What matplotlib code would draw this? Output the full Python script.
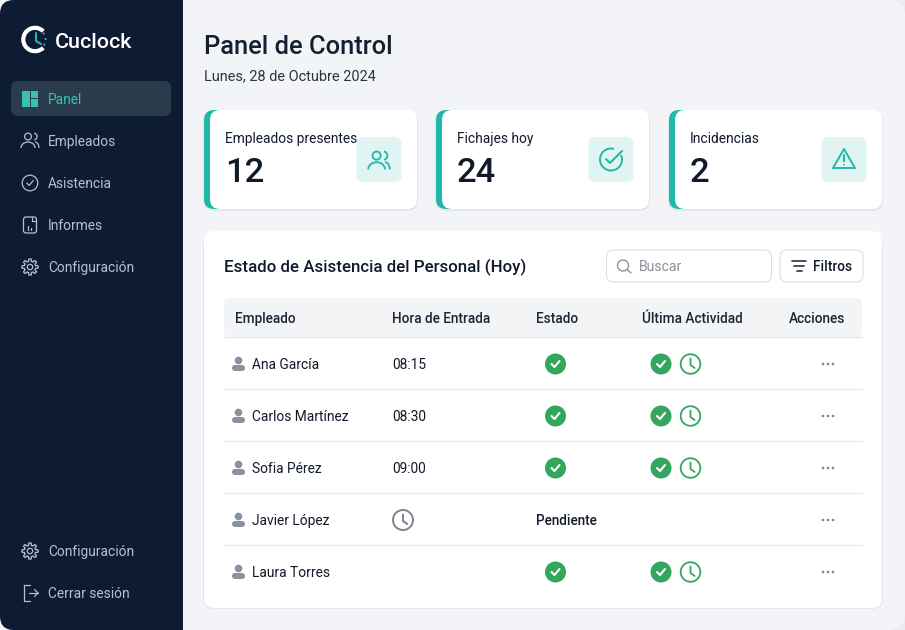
import numpy as np
import matplotlib
matplotlib.use("Agg")
import matplotlib.pyplot as plt
from matplotlib.patches import FancyBboxPatch, Circle, Arc, Rectangle, Polygon, Wedge

plt.rcParams['font.family'] = ['Roboto', 'DejaVu Sans']

nav_top = ["Panel", "Empleados", "Asistencia", "Informes", "Configuración"]
nav_bottom = ["Configuración", "Cerrar sesión"]
card_titles = ["Empleados presentes", "Fichajes hoy", "Incidencias"]
card_values = ["12", "24", "2"]
table_headers = ["Empleado", "Hora de Entrada", "Estado", "Última Actividad", "Acciones"]
employees = ["Ana García", "Carlos Martínez", "Sofia Pérez", "Javier López", "Laura Torres"]
entry_times = ["08:15", "08:30", "09:00", "clock", ""]
states = ["ok", "ok", "ok", "Pendiente", "ok"]
activity = [True, True, True, False, True]

NAVY = "#0d1b33"
TEAL = "#22b8a9"
TEAL_BG = "#e0f5f3"
INK = "#111a2b"
NAV_TXT = "#b9c0cc"
GREEN = "#34a65f"
GREY = "#8a91a0"

fig = plt.figure(figsize=(9.05, 6.3), dpi=100, facecolor="#e9ebee")
ax = fig.add_axes([0, 0, 1, 1])
ax.set_xlim(0, 905)
ax.set_ylim(630, 0)
ax.axis("off")


def px(size):
    return size * 0.72


def rbox(x, y, w, h, r, fc, ec="none", lw=0, z=1, alpha=None):
    p = FancyBboxPatch((x, y), w, h, boxstyle=f"round,pad=0,rounding_size={r}",
                       fc=fc, ec=ec, lw=lw, zorder=z, alpha=alpha)
    ax.add_patch(p)
    return p


def label(x, y, s, size, color=INK, weight="normal", ha="left", z=6):
    ax.text(x, y + 1, s, fontsize=px(size), color=color, fontweight=weight, ha=ha, va="center", zorder=z)


def stroke(xs, ys, color, lw=1.4, z=6):
    ax.plot(xs, ys, color=color, lw=lw, solid_capstyle="round", solid_joinstyle="round", zorder=z)


def ring(x, y, r, color, lw=1.4, z=6):
    ax.add_patch(Circle((x, y), r, fc="none", ec=color, lw=lw, zorder=z))


def people_icon(x, y, color, s=1.0, lw=1.2):
    ring(x - 2 * s, y - 4.5 * s, 3.4 * s, color, lw)
    ax.add_patch(Arc((x - 2 * s, y + 7 * s), 14 * s, 12 * s, theta1=180, theta2=360, ec=color, lw=lw, zorder=6))
    ax.add_patch(Arc((x + 3.5 * s, y - 4.5 * s), 7 * s, 7 * s, theta1=-80, theta2=80, ec=color, lw=lw, zorder=6))
    ax.add_patch(Arc((x + 5 * s, y + 7 * s), 8 * s, 12 * s, theta1=270, theta2=360, ec=color, lw=lw, zorder=6))


def gear_icon(x, y, color, r=7.5):
    t = np.linspace(0, 2 * np.pi, 160)
    rad = r * (0.92 + 0.16 * np.clip(3 * np.cos(8 * t), -1, 1))
    ax.add_patch(Polygon(np.c_[x + rad * np.cos(t), y + rad * np.sin(t)], closed=True, fc="none", ec=color, lw=0.9, zorder=6))
    ring(x, y, r * 0.36, color, 0.9)


def check_mark(x, y, s, color, lw=1.5):
    stroke([x - 4 * s, x - 1 * s, x + 4 * s], [y, y + 3 * s, y - 3 * s], color, lw, 7)


def green_check(x, y):
    ax.add_patch(Circle((x, y), 10.5, fc=GREEN, ec="none", zorder=6))
    check_mark(x, y, 1.0, "white", 1.5)


def clock_icon(x, y, r, color, lw=1.5):
    ring(x, y, r, color, lw)
    stroke([x, x, x + r * 0.42], [y - r * 0.55, y + r * 0.1, y + r * 0.4], color, lw)


def person_icon(x, y):
    ax.add_patch(Circle((x, y - 3.5), 3.8, fc=GREY, ec="none", zorder=6))
    ax.add_patch(FancyBboxPatch((x - 6.5, y + 1), 13, 6, boxstyle="round,pad=0,rounding_size=3",
                                fc=GREY, ec="none", zorder=6))


# page and sidebar
rbox(-20, 0, 925, 630, 16, "#f2f4f7", z=0)
rbox(0, 0, 183, 630, 14, NAVY, z=1)
ax.add_patch(Rectangle((60, 0), 123, 630, fc=NAVY, ec="none", zorder=1))

# logo
ax.add_patch(Wedge((35, 39.5), 13.8, 45, 315, width=4.2, fc="white", ec="none", zorder=6))
stroke([36, 36, 41], [33, 41, 44], TEAL, 1.5)
ax.add_patch(Arc((35, 39.5), 21, 21, theta1=-40, theta2=40, ec=TEAL, lw=1.4, ls=(0, (1, 2)), zorder=6))
label(55, 41.5, "Cuclock", 21.5, "white", "medium")

# nav
rbox(11, 81, 160, 35, 7, "#2a3c4b", z=2)
nav_y = [99, 141, 183, 225, 267]
for i, (name, yy) in enumerate(zip(nav_top, nav_y)):
    label(48, yy, name, 13.8, "#35c2b3" if i == 0 else NAV_TXT)
# panel icon
for bx, by, bw, bh in [(22, 91, 7.5, 16), (31, 91, 7, 6.5), (31, 99, 7, 8)]:
    ax.add_patch(Rectangle((bx, by), bw, bh, fc="#35c2b3", ec="none", zorder=6))
people_icon(30, 141, NAV_TXT, 1.0, 0.9)
ring(30, 183, 7.8, NAV_TXT, 0.9)
check_mark(30, 183, 0.8, NAV_TXT, 0.9)
# report icon
rbox(23.5, 217, 13, 16, 2.5, "none", NAV_TXT, 0.9, z=6)
stroke([28, 28], [226, 230], NAV_TXT, 0.9)
stroke([31, 31], [228, 230], NAV_TXT, 0.9)
stroke([32, 32, 36], [217, 221, 221], NAV_TXT, 0.8)
gear_icon(30, 267, NAV_TXT)
gear_icon(30, 551, NAV_TXT)
label(48, 551, nav_bottom[0], 13.8, NAV_TXT)
label(48, 593, nav_bottom[1], 13.8, NAV_TXT)
stroke([30, 24, 24, 30], [585, 585, 601, 601], NAV_TXT, 0.9)
stroke([29, 38], [593, 593], NAV_TXT, 0.9)
stroke([34.5, 38, 34.5], [589.5, 593, 596.5], NAV_TXT, 0.9)

# title
label(204, 46, "Panel de Control", 25.5, "#14202f", "medium")
label(204, 75, "Lunes, 28 de Octubre 2024", 14.5, "#2a3442")

# cards
card_x = [204, 436, 669]
icon_x = [379, 611, 844]
for x, ix, title, val in zip(card_x, icon_x, card_titles, card_values):
    w = 213
    rbox(x - 1, 111, w + 2, 100, 11, "#d9dde3", z=1, alpha=0.6)
    rbox(x, 110, 40, 99, 10, TEAL, z=2)
    rbox(x + 6, 110, w - 6, 99, 10, "white", z=3)
    label(x + 21, 138, title, 13.7)
    label(x + 21, 172, val, 34.5, INK, "medium")
    rbox(ix - 22.5, 137, 45, 45, 7, TEAL_BG, z=4)
people_icon(icon_x[0], 161, TEAL, 1.2, 1.3)
ring(icon_x[1], 159.5, 11, TEAL, 1.4)
ax.add_patch(Rectangle((icon_x[1] + 3, 148), 11, 7, fc=TEAL_BG, ec="none", zorder=6))
stroke([icon_x[1] - 5, icon_x[1] - 1, icon_x[1] + 11], [159, 163, 151], TEAL, 1.5, 7)
ax.add_patch(Polygon([(icon_x[2], 149), (icon_x[2] + 11, 168), (icon_x[2] - 11, 168)], closed=True,
                     fc="none", ec=TEAL, lw=1.4, joinstyle="round", zorder=6))
stroke([icon_x[2], icon_x[2]], [155, 161], TEAL, 1.6)
ax.add_patch(Circle((icon_x[2], 164.5), 0.9, fc=TEAL, ec="none", zorder=6))

# table panel
rbox(203, 232, 680, 377, 11, "#dde0e5", z=1, alpha=0.7)
rbox(204, 231, 678, 377, 10, "white", z=2)
label(224, 266, "Estado de Asistencia del Personal (Hoy)", 16.9, INK, "medium")

rbox(606.5, 250, 165, 32, 7, "white", "#dcdfe4", 0.8, z=3)
ring(623, 265.5, 5.5, GREY, 1.0)
stroke([627, 631], [269.5, 273], GREY, 1.0)
label(639, 266, "Buscar", 14, "#8b909b")
rbox(780, 250, 83, 32, 7, "white", "#dcdfe4", 0.8, z=3)
for yy, half in zip([261, 266, 271], [7, 5, 2.5]):
    stroke([799 - half, 799 + half], [yy, yy], "#2a3442", 1.2)
label(813, 266, "Filtros", 13.7, INK, "medium")

rbox(224, 298, 638, 39, 5, "#f2f4f6", z=3)
ax.plot([224, 862], [337, 337], color="#e2e4e8", lw=0.8, zorder=4)
head_x = [235, 392, 536, 642, 789]
for hx, head in zip(head_x, table_headers):
    label(hx, 318, head, 13.6, "#1b2533", "medium")

row_y = [364, 416, 468, 520, 572]
for i, yy in enumerate(row_y):
    person_icon(238.5, yy)
    label(252, yy, employees[i], 13.8, INK)
    if entry_times[i] == "clock":
        clock_icon(403, yy, 10, "#7d838f", 1.4)
    elif entry_times[i]:
        label(392, yy, entry_times[i], 13.8, INK)
    if states[i] == "ok":
        green_check(555.5, yy)
    else:
        label(536, yy, states[i], 13.5, INK, "medium")
    if activity[i]:
        green_check(661, yy)
        clock_icon(690.5, yy, 9.8, GREEN, 1.3)
    for dx in (-5, 0, 5):
        ax.add_patch(Circle((828 + dx, yy), 1.3, fc="#7d838f", ec="none", zorder=6))
    if i < len(row_y) - 1:
        ax.plot([224, 862], [yy + 25, yy + 25], color="#e6e8eb", lw=0.8, zorder=4)

fig.savefig("out.png", dpi=100, facecolor=fig.get_facecolor())
